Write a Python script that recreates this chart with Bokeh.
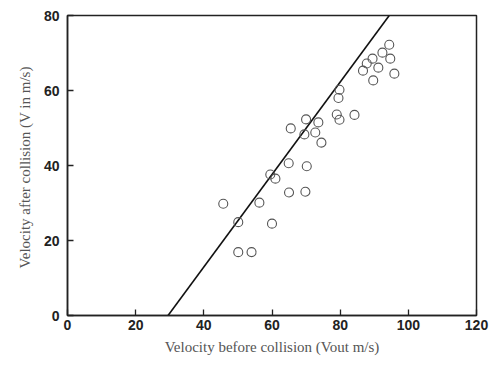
from bokeh.plotting import figure
from bokeh.models import Range1d, FixedTicker
from bokeh.embed import file_html
from bokeh.resources import INLINE

# Data
v_out = [45.7, 50.1, 50.1, 54.0, 56.3, 59.5, 61.0, 60.0, 64.9, 65.0, 69.8, 70.2,
         65.5, 69.5, 70.0, 72.7, 73.6, 74.5, 79.0, 79.8, 84.2, 79.5, 79.8,
         86.7, 87.8, 89.7, 89.5, 91.2, 92.4, 94.4, 94.7, 95.9]
v_in = [29.8, 24.9, 16.9, 16.9, 30.1, 37.6, 36.5, 24.5, 40.6, 32.8, 33.0, 39.8,
        49.9, 48.3, 52.3, 48.8, 51.5, 46.1, 53.6, 52.2, 53.5, 58.0, 60.2,
        65.3, 67.2, 62.7, 68.5, 66.1, 70.1, 72.2, 68.5, 64.5]
fit_x = [29.5, 94.4]
fit_y = [0.0, 80.0]
x_ticks = [0, 20, 40, 60, 80, 100, 120]
y_ticks = [0, 20, 40, 60, 80]

p = figure(width=496, height=365, output_backend="svg", toolbar_location=None,
           x_range=Range1d(0, 120), y_range=Range1d(0, 80),
           min_border_left=67, min_border_right=20, min_border_top=15, min_border_bottom=50)

p.line(fit_x, fit_y, line_color="#111111", line_width=1.6)
p.scatter(v_out, v_in, size=9, marker="circle", fill_color=None,
          line_color="#555555", line_width=1.1)

p.xgrid.visible = False
p.ygrid.visible = False
p.outline_line_color = "#222222"
p.outline_line_width = 1.5

p.xaxis.ticker = FixedTicker(ticks=x_ticks)
p.yaxis.ticker = FixedTicker(ticks=y_ticks)
for ax in (p.xaxis[0], p.yaxis[0]):
    ax.major_tick_in = 6
    ax.major_tick_out = 0
    ax.minor_tick_line_color = None
    ax.axis_line_color = "#222222"
    ax.axis_line_width = 1.5
    ax.major_tick_line_color = "#222222"
    ax.major_tick_line_width = 1.3
    ax.major_label_text_font = "Liberation Sans"
    ax.major_label_text_font_style = "bold"
    ax.major_label_text_font_size = "14px"
    ax.major_label_text_color = "#222222"
    ax.axis_label_text_font = "Liberation Serif"
    ax.axis_label_text_font_style = "normal"
    ax.axis_label_text_font_size = "15px"
    ax.axis_label_text_color = "#555555"

p.xaxis.axis_label = "Velocity before collision (Vout m/s)"
p.yaxis.axis_label = "Velocity after collision (V in  m/s)"
p.xaxis.major_label_standoff = 4
p.yaxis.major_label_standoff = 8
p.xaxis.axis_label_standoff = 6
p.yaxis.axis_label_standoff = 8

open("out.html", "w").write(file_html(p, INLINE))
